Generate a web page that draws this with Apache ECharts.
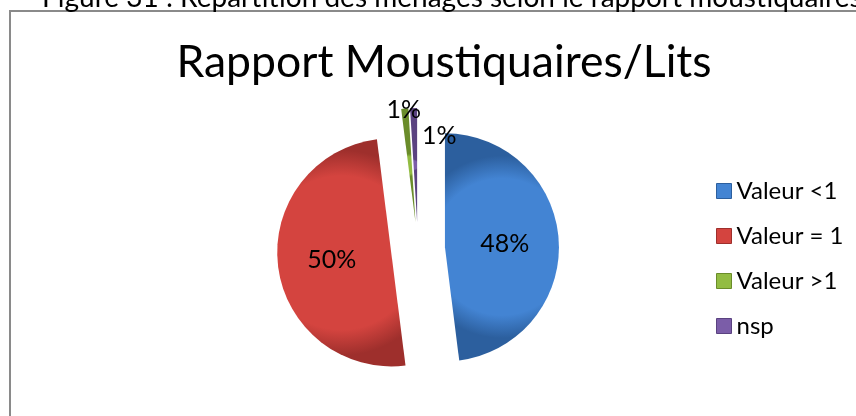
<!DOCTYPE html>
<html>
<head>
<meta charset="utf-8">
<script src="https://cdn.jsdelivr.net/npm/echarts@6/dist/echarts.min.js"></script>
<style>
  html, body { margin: 0; padding: 0; background: #fff; }
  #chart { width: 856px; height: 416px; }
</style>
</head>
<body>
<div id="chart"></div>
<script>
// données
const categories = ['Valeur <1', 'Valeur = 1', 'Valeur >1', 'nsp'];
const values = [48, 50, 1, 1];
const colors = ['#4384d3', '#d4443f', '#92bc42', '#7b5da8'];
const edgeColors = ['#2c5f9e', '#9e2f2c', '#6a8c2a', '#5a4280'];

const chart = echarts.init(document.getElementById('chart'));

function shade(i) {
  return {
    type: 'radial', x: 0.5, y: 0.5, r: 0.8,
    colorStops: [
      { offset: 0, color: colors[i] },
      { offset: 0.75, color: colors[i] },
      { offset: 1, color: edgeColors[i] }
    ]
  };
}

// petits secteurs : étiquettes décalées vers le haut
const smallOffsets = [null, null, [-6, -52], [24, -26]];

const data = categories.map(function (name, i) {
  return {
    name: name,
    value: values[i],
    selected: true,
    itemStyle: { color: shade(i) }
  };
});

const option = {
  animation: false,
  color: colors,
  title: {
    text: 'Rapport Moustiquaires/Lits',
    left: 439,
    textAlign: 'center',
    top: 35,
    textStyle: {
      fontFamily: 'Lato',
      fontWeight: 'normal',
      fontSize: 44.5,
      color: '#000'
    }
  },
  legend: {
    orient: 'vertical',
    left: 711,
    top: 174,
    itemWidth: 15,
    itemHeight: 15,
    itemGap: 21,
    icon: 'rect',
    selectedMode: false,
    textStyle: { fontFamily: 'Lato', fontSize: 24, color: '#000' },
    data: categories.map(function (name, i) {
      return { name: name, itemStyle: { color: colors[i], borderColor: edgeColors[i], borderWidth: 1 } };
    })
  },
  graphic: [
    {
      type: 'rect',
      shape: { x: 10, y: 11, width: 900, height: 500 },
      style: { fill: 'none', stroke: '#8a8a8a', lineWidth: 2 },
      silent: true
    },
    {
      type: 'text',
      left: 42,
      top: -16,
      style: {
        text: 'Figure 31 : Répartition des ménages selon le rapport moustiquaires/lits',
        font: '28px Lato',
        fill: '#000'
      },
      silent: true
    }
  ],
  series: [
    {
      name: 'Rapport',
      type: 'pie',
      center: [418, 249],
      radius: 114,
      startAngle: 90,
      clockwise: true,
      selectedMode: 'multiple',
      selectedOffset: 27,
      avoidLabelOverlap: false,
      label: {
        show: true,
        position: 'inside',
        formatter: '{d}%',
        fontFamily: 'Lato',
        fontSize: 25,
        color: '#000'
      },
      labelLine: { show: false },
      labelLayout: function (params) {
        const off = smallOffsets[params.dataIndex];
        return off ? { dx: off[0], dy: off[1] } : {};
      },
      emphasis: { disabled: true },
      itemStyle: { borderWidth: 0 },
      data: data
    }
  ]
};

chart.setOption(option);
</script>
</body>
</html>
